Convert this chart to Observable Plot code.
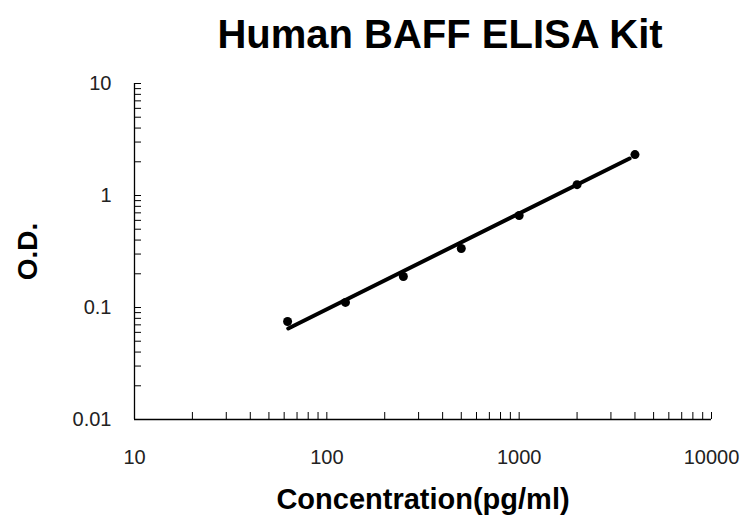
<!DOCTYPE html>
<html>
<head>
<meta charset="utf-8">
<script src="https://cdn.jsdelivr.net/npm/d3@7"></script>
<script src="https://cdn.jsdelivr.net/npm/@observablehq/plot@0.6"></script>
<style>
  html, body { margin: 0; padding: 0; background: #fff; }
  #chart { width: 741px; height: 516px; }
</style>
</head>
<body>
<div id="chart"></div>
<script>
// ---- data ----
const concentration = [62.5, 125, 250, 500, 1000, 2000, 4000];
const od = [0.075, 0.111, 0.189, 0.336, 0.663, 1.25, 2.32];
const fitX = [63, 3750];
const fitY = [0.065, 2.14];
const xTickValues = [10, 100, 1000, 10000];
const yTickValues = [0.01, 0.1, 1, 10];
const xTickLabels = ["10", "100", "1000", "10000"];
const yTickLabels = ["0.01", "0.1", "1", "10"];
const titleText = ["Human BAFF ELISA Kit"];
const xLabel = ["Concentration(pg/ml)"];
const yLabel = ["O.D."];

// minor tick positions (2..10 per decade)
const xMinor = [];
for (const dec of [10, 100, 1000]) for (let k = 2; k <= 10; k++) xMinor.push(dec * k);
const yMinor = [];
for (const dec of [0.01, 0.1, 1]) for (let k = 2; k <= 10; k++) yMinor.push(+(dec * k).toPrecision(3));

const W = 741, H = 516;
const mTop = 83, mBottom = 97, mLeft = 134, mRight = 30;
const frameW = W - mLeft - mRight, frameH = H - mTop - mBottom;
const tickLen = 7;
const font = "Liberation Sans, Arial, Helvetica, sans-serif";

const points = concentration.map((c, i) => ({c, v: od[i]}));
const fit = fitX.map((c, i) => ({c, v: fitY[i]}));

const chart = Plot.plot({
  width: W,
  height: H,
  marginTop: mTop,
  marginBottom: mBottom,
  marginLeft: mLeft,
  marginRight: mRight,
  style: {fontFamily: font, background: "#fff", color: "#000", overflow: "visible"},
  x: {type: "log", domain: [10, 10000], axis: null},
  y: {type: "log", domain: [0.01, 10], axis: null},
  marks: [
    // axis lines
    Plot.ruleX([10], {stroke: "#000", strokeWidth: 1.3}),
    Plot.ruleY([0.01], {stroke: "#000", strokeWidth: 1.3}),
    // inward minor/major ticks
    Plot.tickX(xMinor, {x: d => d, insetTop: frameH - tickLen, stroke: "#000", strokeWidth: 1}),
    Plot.tickY(yMinor, {y: d => d, insetRight: frameW - tickLen, stroke: "#000", strokeWidth: 1}),
    // tick labels
    Plot.text(xTickValues, {
      x: d => d, text: (d, i) => xTickLabels[i], frameAnchor: "bottom",
      dy: 44, lineAnchor: "bottom", textAnchor: "middle",
      fontSize: 20, fill: "#222"
    }),
    Plot.text(yTickValues, {
      y: d => d, text: (d, i) => yTickLabels[i], frameAnchor: "left",
      dx: -23, lineAnchor: "middle", textAnchor: "end",
      fontSize: 20, fill: "#222"
    }),
    // fit line and data points
    Plot.line(fit, {x: "c", y: "v", stroke: "#000", strokeWidth: 4, strokeLinecap: "round"}),
    Plot.dot(points, {x: "c", y: "v", r: 4.5, fill: "#000", stroke: "none"}),
    // title and axis labels
    Plot.text(titleText, {
      text: d => d, frameAnchor: "top", dx: 17, dy: -36, lineAnchor: "bottom", textAnchor: "middle",
      fontSize: 40, fontWeight: "bold", fill: "#000"
    }),
    Plot.text(xLabel, {
      text: d => d, frameAnchor: "bottom", dy: 89, lineAnchor: "bottom", textAnchor: "middle",
      fontSize: 29, fontWeight: "bold", fill: "#000"
    }),
    Plot.text(yLabel, {
      text: d => d, frameAnchor: "left", dx: -98, rotate: -90, lineAnchor: "bottom", textAnchor: "middle",
      fontSize: 28, fontWeight: "bold", fill: "#000"
    })
  ]
});
document.getElementById("chart").appendChild(chart);
</script>
</body>
</html>
